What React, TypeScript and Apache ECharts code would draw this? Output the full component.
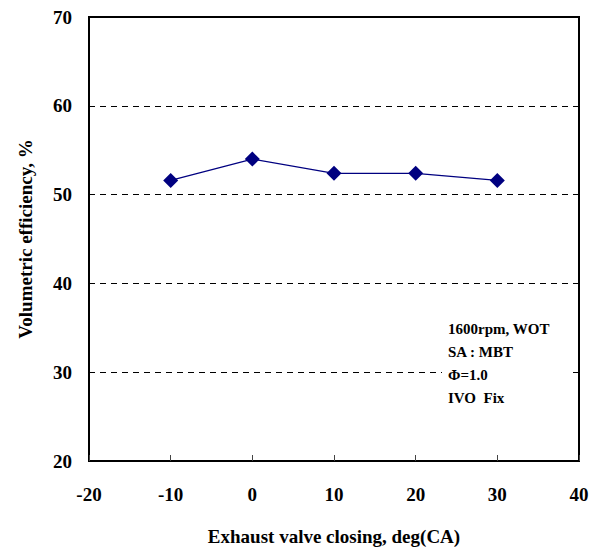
import React, { useEffect, useRef } from "react";
import * as echarts from "echarts";

const evcValues = [-10, 0, 10, 20, 30];
const volEff = [51.6, 54.0, 52.4, 52.4, 51.6];
const noteLines = ["1600rpm, WOT", "SA : MBT", "Φ=1.0", "IVO  Fix"];

const FONT = "'Liberation Serif', 'Times New Roman', serif";

export default function App() {
  const ref = useRef<HTMLDivElement>(null);
  useEffect(() => {
    if (!ref.current) return;
    const chart = echarts.init(ref.current, undefined, { renderer: "svg" });
    chart.setOption({
      animation: false,
      backgroundColor: "#fff",
      grid: {
        left: 89,
        top: 17,
        right: 21,
        bottom: 89,
        outerBoundsMode: "none",
        containLabel: false,
        show: true,
        borderColor: "#000",
        borderWidth: 2,
        backgroundColor: "transparent",
      },
      xAxis: {
        type: "value",
        min: -20,
        max: 40,
        interval: 10,
        name: "Exhaust valve closing, deg(CA)",
        nameLocation: "middle",
        nameGap: 66,
        nameTextStyle: { fontFamily: FONT, fontWeight: "bold", fontSize: 19, color: "#000" },
        axisLine: { show: true, onZero: false, lineStyle: { color: "#000", width: 2 } },
        axisTick: { show: true, inside: true, length: 6, lineStyle: { color: "#444", width: 1 } },
        axisLabel: { fontFamily: FONT, fontWeight: "bold", fontSize: 19, color: "#000", margin: 24 },
        splitLine: { show: false },
      },
      yAxis: {
        type: "value",
        min: 20,
        max: 70,
        interval: 10,
        name: "Volumetric efficiency, %",
        nameLocation: "middle",
        nameGap: 54,
        nameTextStyle: { fontFamily: FONT, fontWeight: "bold", fontSize: 19, color: "#000" },
        axisLine: { show: true, onZero: false, lineStyle: { color: "#000", width: 2 } },
        axisTick: { show: false },
        axisLabel: { fontFamily: FONT, fontWeight: "bold", fontSize: 19, color: "#000", margin: 17 },
        splitLine: { show: true, lineStyle: { color: "#000", type: [6, 5], width: 1 } },
      },
      series: [
        {
          type: "line",
          data: evcValues.map((x, i) => [x, volEff[i]]),
          symbol: "diamond",
          symbolSize: 15,
          itemStyle: { color: "#000080" },
          lineStyle: { color: "#000080", width: 1.2 },
          z: 5,
        },
      ],
      graphic: [
        {
          type: "rect",
          left: 442,
          top: 317,
          shape: { width: 128, height: 92 },
          style: { fill: "#fff" },
          z: 10,
        },
        ...noteLines.map((t, i) => ({
          type: "text",
          left: 448,
          top: 321 + i * 23,
          z: 11,
          style: {
            text: t,
            font: `bold 15px ${FONT}`,
            fill: "#000",
          },
        })),
      ],
    });
    return () => chart.dispose();
  }, []);
  return (
    <div
      ref={ref}
      style={{ position: "absolute", left: 0, top: 0, width: 600, height: 550 }}
    />
  );
}
